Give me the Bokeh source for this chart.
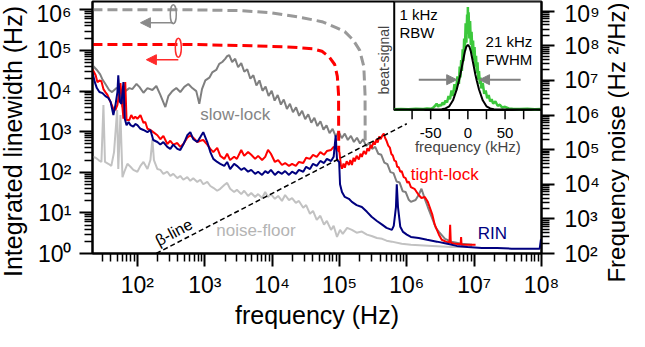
from math import log10, pi
from bokeh.plotting import figure
from bokeh.layouts import row
from bokeh.models import (Range1d, LogAxis, LinearScale, LogScale, FixedTicker,
                          Label, Arrow, NormalHead, CustomJSTickFormatter)
from bokeh.core.properties import value
from bokeh.embed import file_html
from bokeh.resources import INLINE

# ---------------- data ----------------
# frequency-noise spectra: (Fourier frequency in Hz, frequency noise in Hz^2/Hz)
slow_lock = [
    (21.5, 2.75e7), (25, 2.0e7), (28, 1.5e7), (30, 1.1e7), (33.5, 7.9e6), (38, 5.3e6),
    (42, 4.6e6), (49, 6.0e6), (54, 5.6e6), (60, 1.7e6), (66, 4.9e6), (76, 6.0e6),
    (84, 5.6e6), (97, 7.9e6), (107, 6.5e6), (123, 4.4e6), (141, 6.0e6), (167, 5.3e6),
    (191, 6.9e6), (219, 3.8e6), (260, 1.7e6), (288, 3.5e6), (330, 4.9e6), (378, 6.0e6),
    (433, 4.6e6), (497, 6.5e6), (570, 7.9e6), (653, 6.0e6), (748, 4.9e6), (830, 2.1e6),
    (910, 5.6e6), (1020, 1.0e7), (1170, 1.2e7), (1290, 1.7e7), (1480, 2.0e7), (1640, 3.0e7),
    (1820, 3.4e7), (2010, 4.2e7), (2150, 5.0e7), (2310, 5.4e7), (2550, 3.4e7), (2830, 4.2e7),
    (3130, 2.4e7), (3480, 3.16e7), (3860, 1.78e7), (4280, 2.1e7), (4750, 1.12e7),
    (5270, 1.41e7), (5850, 7.1e6), (6490, 1.0e7), (7200, 5.0e6), (8000, 6.6e6), (8870, 3.55e6),
    (9850, 5.0e6), (1.09e4, 2.6e6), (1.21e4, 3.8e6), (1.35e4, 2.0e6), (1.49e4, 2.8e6),
    (1.66e4, 1.5e6), (1.84e4, 2.1e6), (2.04e4, 1.2e6), (2.27e4, 1.66e6), (2.52e4, 9.5e5),
    (2.79e4, 1.32e6), (3.1e4, 7.6e5), (3.44e4, 1.05e6), (3.82e4, 6.0e5), (4.24e4, 8.3e5),
    (4.7e4, 4.8e5), (5.22e4, 6.6e5), (5.79e4, 3.8e5), (6.43e4, 5.0e5), (7.13e4, 3.0e5),
    (7.92e4, 4.0e5), (8.79e4, 2.4e5), (9.75e4, 3.3e5), (1.08e5, 2.14e5), (1.2e5, 2.9e5),
    (1.33e5, 1.9e5), (1.48e5, 2.5e5), (1.64e5, 1.66e5), (1.82e5, 2.2e5), (2.02e5, 1.5e5),
    (2.24e5, 2.0e5), (2.49e5, 1.26e5), (2.76e5, 1.58e5), (3.06e5, 1.05e5), (3.4e5, 1.2e5),
    (3.77e5, 7.6e4), (4.18e5, 7.1e4), (4.64e5, 4.2e4), (5.15e5, 3.8e4), (5.72e5, 2.24e4),
    (6.35e5, 2.1e4), (7.05e5, 1.2e4), (7.82e5, 1.12e4), (8.68e5, 6.3e3), (9.6e5, 6.0e3),
    (1.07e6, 3.55e3), (1.15e6, 3.1e3), (1.35e6, 3.5e3), (1.5e6, 4.9e3), (1.65e6, 7.4e3),
    (1.85e6, 3.8e3), (2.05e6, 2.2e3), (2.4e6, 1.0e3), (2.7e6, 550), (3.0e6, 420),
    (3.7e6, 265), (4.6e6, 220), (6.5e6, 190), (9.3e6, 178),
]
tight_lock = [
    (21.5, 2.1e7), (24, 1.4e7), (25.5, 8.9e6), (27.3, 1.0e7), (29.2, 9.5e6), (31.3, 5.6e6),
    (33.5, 4.6e6), (35.9, 3.8e6), (39.8, 2.4e6), (44, 1.5e6), (47.2, 1.4e6), (50.5, 1.95e6),
    (54, 4.6e6), (56, 8.3e6), (59, 2.4e6), (62, 7.8e5), (66, 8.9e6), (69, 7.2e5), (76, 7.2e5),
    (81, 1.0e6), (87, 7.8e5), (93, 8.9e5), (100, 7.8e5), (111, 1.0e6), (123, 5.9e5),
    (131, 6.3e5), (141, 4.0e5), (156, 3.7e5), (172, 3.2e5), (198, 2.6e5), (219, 2.0e5),
    (243, 2.5e5), (278, 1.45e5), (308, 1.8e5), (341, 1.4e5), (391, 1.55e5), (433, 1.2e5),
    (480, 1.45e5), (550, 2.2e5), (610, 2.6e5), (675, 2.2e5), (775, 1.66e5), (860, 1.8e5),
    (950, 1.9e5), (1090, 1.4e5), (1210, 1.05e5), (1340, 8.5e4), (1530, 1.12e5), (1700, 6.6e4),
    (1950, 5.4e4), (2150, 7.6e4), (2380, 5.0e4), (2730, 6.2e4), (3000, 5.4e4), (3480, 9.8e4),
    (3850, 6.6e4), (4400, 8.5e4), (4900, 7.1e4), (5600, 5.4e4), (6200, 6.6e4), (7100, 5.0e4),
    (7900, 6.2e4), (8700, 9.8e4), (9600, 7.6e4), (1.1e4, 4.4e4), (1.23e4, 5.0e4),
    (1.4e4, 3.6e4), (1.56e4, 4.1e4), (1.78e4, 3.4e4), (1.98e4, 3.9e4), (2.25e4, 3.4e4),
    (2.5e4, 4.4e4), (2.9e4, 4.1e4), (3.2e4, 5.8e4), (3.65e4, 5.4e4), (4.05e4, 7.1e4),
    (4.6e4, 6.2e4), (5.2e4, 8.5e4), (5.9e4, 7.1e4), (6.5e4, 9.1e4), (7.5e4, 9.8e4),
    (8.2e4, 1.2e5), (9.2e4, 1.05e5), (1.0e5, 8.5e4), (1.05e5, 3.5e4), (1.09e5, 2.8e4),
    (1.15e5, 4.0e4), (1.2e5, 3.0e4), (1.28e5, 4.6e4), (1.38e5, 3.6e4), (1.45e5, 5.0e4),
    (1.53e5, 3.6e4), (1.62e5, 5.8e4), (1.69e5, 4.6e4), (1.8e5, 6.6e4), (1.94e5, 5.2e4),
    (2.05e5, 7.6e4), (2.15e5, 6.2e4), (2.3e5, 9.1e4), (2.47e5, 7.4e4), (2.6e5, 1.1e5),
    (2.75e5, 9.1e4), (2.9e5, 1.35e5), (3.0e5, 1.1e5), (3.2e5, 1.7e5), (3.35e5, 1.4e5),
    (3.55e5, 2.0e5), (3.7e5, 1.6e5), (3.9e5, 2.4e5), (4.1e5, 2.0e5), (4.35e5, 2.6e5),
    (4.55e5, 2.9e5), (4.75e5, 2.2e5), (5.0e5, 1.8e5), (5.3e5, 1.3e5), (5.6e5, 1.15e5),
    (5.9e5, 7.5e4), (6.2e5, 6.8e4), (6.55e5, 4.8e4), (6.9e5, 4.6e4), (7.2e5, 3.2e4),
    (7.6e5, 3.1e4), (8.0e5, 2.3e4), (8.4e5, 2.4e4), (9.0e5, 1.6e4), (9.6e5, 1.5e4),
    (1.02e6, 1.1e4), (1.07e6, 1.2e4), (1.15e6, 8.3e3), (1.3e6, 7.4e3), (1.5e6, 4.9e3),
    (1.65e6, 4.0e3), (1.85e6, 4.3e3), (2.05e6, 3.1e3), (2.4e6, 1.3e3), (2.6e6, 680),
    (3.0e6, 350), (3.3e6, 250), (3.8e6, 220), (4.3e6, 205), (4.4e6, 680), (4.5e6, 205),
    (5.2e6, 190), (6.3e6, 185), (6.4e6, 300), (6.5e6, 180), (8.0e6, 178), (1.05e7, 178),
]
rin = [
    (21.5, 1.7e7), (23.3, 8.9e6), (25, 6.0e6), (27.3, 4.6e6), (30.3, 4.3e6), (33.5, 3.5e6),
    (37, 3.1e6), (40, 2.4e6), (44, 1.0e6), (47.5, 2.1e6), (50.5, 4.6e6), (52, 1.4e7),
    (55, 2.4e6), (58, 2.1e6), (62, 8.9e6), (65, 7.8e5), (69, 5.1e5), (74, 6.3e5), (79, 5.1e5),
    (87, 4.6e5), (93, 5.5e5), (100, 5.1e5), (111, 4.0e5), (123, 3.7e5), (141, 3.2e5),
    (156, 3.7e5), (172, 1.9e5), (198, 1.66e5), (219, 1.4e5), (243, 1.66e5), (278, 1.2e5),
    (308, 1.05e5), (341, 1.4e5), (391, 1.05e5), (433, 9.8e4), (480, 1.4e5), (515, 1.9e5),
    (550, 2.6e5), (610, 3.2e5), (675, 2.0e5), (775, 1.66e5), (860, 2.3e5), (950, 3.2e5),
    (1090, 1.66e5), (1210, 8.5e4), (1340, 5.4e4), (1530, 4.4e4), (1700, 3.9e4), (1950, 3.4e4),
    (2150, 4.4e4), (2380, 2.75e4), (2730, 3.9e4), (3000, 3.4e4), (3480, 2.6e4), (3850, 2.95e4),
    (4400, 2.3e4), (4900, 2.6e4), (5600, 2.0e4), (6200, 2.3e4), (7100, 1.86e4), (7900, 2.4e4),
    (8700, 2.1e4), (9600, 2.6e4), (1.1e4, 1.86e4), (1.23e4, 2.3e4), (1.4e4, 2.0e4),
    (1.56e4, 2.4e4), (1.78e4, 1.86e4), (1.98e4, 2.3e4), (2.25e4, 2.0e4), (2.5e4, 2.6e4),
    (2.9e4, 2.3e4), (3.2e4, 3.2e4), (3.65e4, 2.75e4), (4.05e4, 3.9e4), (4.6e4, 3.4e4),
    (5.2e4, 4.7e4), (5.9e4, 4.1e4), (6.5e4, 5.4e4), (7.5e4, 4.7e4), (8.2e4, 6.2e4),
    (8.8e4, 2.6e5), (9.2e4, 5.0e4), (9.9e4, 4.4e4), (1.02e5, 1.0e4), (1.09e5, 6.0e3),
    (1.2e5, 4.3e3), (1.38e5, 3.8e3), (1.53e5, 3.1e3), (1.8e5, 2.5e3), (2.15e5, 2.2e3),
    (2.56e5, 1.6e3), (3.0e5, 1.15e3), (3.6e5, 870), (4.3e5, 680), (5.0e5, 550), (6.0e5, 480),
    (6.4e5, 630), (6.9e5, 2.2e3), (7.1e5, 1.0e4), (7.4e5, 2.2e3), (8.0e5, 590), (8.8e5, 420),
    (1.0e6, 350), (1.15e6, 300), (1.5e6, 280), (2.0e6, 250), (2.8e6, 220), (4.0e6, 190),
    (5.5e6, 166), (8.0e6, 155), (1.3e7, 145), (2.2e7, 145), (3.6e7, 138), (6.0e7, 138),
    (9.4e7, 138), (9.8e7, 250), (1.0e8, 250),
]
noise_floor = [
    (21.5, 6.2e4), (24, 5.8e4), (26.5, 5.0e4), (29.2, 4.4e4), (31.3, 1.95e6), (33, 4.4e4),
    (37, 3.9e4), (41, 3.4e4), (45, 8.5e4), (50, 1.4e6), (52, 2.75e4), (56, 1.0e6), (60, 1.6e4),
    (64, 2.3e4), (71, 3.9e4), (79, 3.2e4), (87, 2.6e4), (100, 2.3e4), (111, 3.4e4),
    (123, 4.4e4), (141, 2.75e4), (156, 5.0e4), (167, 2.0e5), (176, 5.0e4), (198, 2.75e4),
    (219, 2.6e4), (243, 2.0e4), (278, 2.3e4), (308, 1.74e4), (341, 2.0e4), (391, 1.5e4),
    (433, 1.74e4), (480, 1.35e4), (550, 1.6e4), (610, 1.26e4), (675, 1.5e4), (775, 1.17e4),
    (860, 1.35e4), (950, 1.0e4), (1090, 1.17e4), (1210, 8.9e3), (1340, 7.9e3), (1530, 6.5e3),
    (1700, 7.4e3), (1950, 9.5e3), (2150, 1.1e4), (2380, 7.4e3), (2730, 6.0e3), (3000, 6.9e3),
    (3480, 5.2e3), (3850, 6.5e3), (4400, 4.6e3), (4900, 5.6e3), (5600, 4.3e3), (6200, 5.2e3),
    (7100, 4.0e3), (7900, 6.0e3), (8700, 4.3e3), (9600, 5.2e3), (1.1e4, 3.8e3), (1.23e4, 4.6e3),
    (1.4e4, 3.3e3), (1.56e4, 4.9e3), (1.78e4, 3.5e3), (1.98e4, 4.0e3), (2.25e4, 2.9e3),
    (2.5e4, 3.3e3), (2.9e4, 2.1e3), (3.2e4, 2.5e3), (3.65e4, 1.4e3), (4.05e4, 1.7e3),
    (4.6e4, 930), (5.2e4, 1.23e3), (5.9e4, 680), (6.5e4, 870), (7.5e4, 480), (8.2e4, 630),
    (9.2e4, 300), (1.02e5, 480), (1.12e5, 370), (1.3e5, 550), (1.53e5, 480), (1.8e5, 400),
    (2.15e5, 430), (2.56e5, 350), (3.0e5, 320), (3.6e5, 280), (4.3e5, 265), (5.0e5, 235),
    (6.0e5, 220), (8.4e5, 190), (1.15e6, 178), (2.4e6, 166), (4.6e6, 155), (9.3e6, 155),
]
beta_line = [(190, 100), (1.0e6, 5.6e5)]

# integrated linewidth (Hz) versus lower integration frequency (Hz)
slow_integrated = [
    (21.5, 1.0e6), (650, 1.0e6), (3600, 9.5e5), (1.0e4, 8.4e5), (2.8e4, 6.4e5), (5.5e4, 5.1e5),
    (9.1e4, 3.6e5), (1.2e5, 2.9e5), (1.6e5, 1.8e5), (2.0e5, 1.0e5), (2.3e5, 4.0e4),
    (2.4e5, 8.0e3), (2.41e5, 550),
]
tight_integrated = [
    (21.5, 1.4e5), (650, 1.4e5), (5000, 1.3e5), (2.0e4, 1.2e5), (4.0e4, 1.1e5), (5.5e4, 9.5e4),
    (7.0e4, 7.0e4), (8.5e4, 4.5e4), (9.3e4, 2.3e4), (9.7e4, 8.0e3), (9.75e4, 330),
]

# inset: beat signal (frequency offset in kHz, normalised amplitude)
beat_signal = [
    (-99, 0.008), (-90, 0.01), (-80, 0.008), (-70, 0.012), (-60, 0.01), (-55, 0.015),
    (-50, 0.012), (-47, 0.02), (-44, 0.04), (-42, 0.06), (-40, 0.03), (-38, 0.05), (-36, 0.04),
    (-34, 0.07), (-32, 0.05), (-30, 0.09), (-28, 0.07), (-26, 0.13), (-24, 0.10), (-22, 0.18),
    (-20, 0.13), (-18, 0.24), (-16, 0.18), (-14, 0.31), (-12, 0.24), (-11, 0.40), (-10, 0.30),
    (-9, 0.46), (-8, 0.36), (-7, 0.56), (-6, 0.45), (-5, 0.66), (-4, 0.55), (-3, 0.80),
    (-2, 0.62), (-1, 0.88), (-0.5, 0.70), (0, 0.95), (0.5, 0.74), (1, 0.90), (2, 0.66),
    (3, 0.82), (4, 0.60), (5, 0.72), (6, 0.52), (7, 0.64), (8, 0.46), (9, 0.58), (10, 0.40),
    (11, 0.50), (12, 0.34), (13, 0.44), (14, 0.28), (15, 0.36), (16, 0.24), (17, 0.30),
    (18, 0.20), (20, 0.25), (22, 0.15), (24, 0.18), (26, 0.11), (28, 0.14), (30, 0.08),
    (32, 0.10), (34, 0.06), (37, 0.08), (40, 0.04), (43, 0.05), (46, 0.025), (50, 0.03),
    (55, 0.015), (60, 0.012), (70, 0.01), (80, 0.012), (90, 0.008), (99, 0.01),
]
beat_fit = [
    (-99, 0.005), (-40, 0.006), (-35, 0.008), (-30, 0.015), (-25, 0.035), (-20, 0.09),
    (-15, 0.19), (-12, 0.27), (-10, 0.33), (-8, 0.40), (-6, 0.47), (-4, 0.54), (-2, 0.585),
    (0, 0.60), (2, 0.585), (4, 0.54), (6, 0.47), (8, 0.40), (10, 0.33), (12, 0.27), (15, 0.19),
    (20, 0.09), (25, 0.035), (30, 0.015), (35, 0.008), (40, 0.006), (99, 0.005),
]

# axes ticks
x_major_ticks = [1e2, 1e3, 1e4, 1e5, 1e6, 1e7, 1e8]
lw_major_ticks = [1e0, 1e1, 1e2, 1e3, 1e4, 1e5, 1e6]
fn_major_ticks = [1e2, 1e3, 1e4, 1e5, 1e6, 1e7, 1e8, 1e9]
inset_ticks = [-75, -50, -25, 0, 25, 50, 75]
inset_tick_labels = ["-50", "0", "50"]
inset_tick_label_pos = [-50, 0, 50]

# ---------------- layout ----------------
FONT = "Liberation Sans"
PAGE = 8
LEFT_W, RIGHT_W = 30, 27          # side panels holding the vertical axis titles
MAIN_W = 629 - LEFT_W - RIGHT_W   # 572
MAIN_H = 331
ML, MR, MT, MB = 62, 60, 1, 60

x_lo, x_hi = 21.54, 1e8
lw_lo, lw_hi = 1.0, 1.6e6
fn_lo, fn_hi = 100.0, 1.9e9

C_SLOW, C_SLOW_D, C_FLOOR = "#7f7f7f", "#999999", "#c2c2c2"
C_RED, C_NAVY, C_GREEN = "#ff0000", "#00007f", "#3cc83c"
C_ARROW_G, C_ARROW_R = "#8a8a8a", "#ff2a2a"


# reading positions of the reference picture (page pixels) -> data units
def ref_px_to_hz(px):
    return 10 ** (2 + (px - 145) / 67.5)


def ref_py_to_lw(py):
    return 10 ** (6 - (py - 18) / 40.8)


# inset placed as a fraction of the main frame (reference: right 33% wide, top 43% high)
INSET_FRAC_W, INSET_FRAC_H = 0.328, 0.431
IN_X0, IN_X1, IN_Y0, IN_Y1 = -99.0, 99.0, 0.0, 1.0
ix_range = Range1d(start=IN_X1 - (IN_X1 - IN_X0) / INSET_FRAC_W, end=IN_X1)
iy_range = Range1d(start=IN_Y1 - (IN_Y1 - IN_Y0) / INSET_FRAC_H, end=IN_Y1)


def no_frame_align(f):
    if "frame_align" in f.properties():
        f.frame_align = False


p = figure(width=MAIN_W, height=MAIN_H, x_axis_type="log", y_axis_type="log",
           x_range=Range1d(x_lo, x_hi), y_range=Range1d(lw_lo, lw_hi),
           output_backend="svg", toolbar_location=None,
           min_border_left=ML, min_border_right=MR, min_border_top=MT, min_border_bottom=MB)
no_frame_align(p)
p.extra_y_ranges = {"fn": Range1d(fn_lo, fn_hi), "iy": iy_range}
p.extra_x_ranges = {"ix": ix_range}
p.extra_y_scales = {"fn": LogScale(), "iy": LinearScale()}
p.extra_x_scales = {"ix": LinearScale()}

p.xgrid.visible = False
p.ygrid.visible = False
p.outline_line_color = "black"
p.outline_line_width = 2
p.background_fill_color = "white"
p.border_fill_color = "white"

sup_code = """
const sup = {"0":"\\u2070","1":"\\u00b9","2":"\\u00b2","3":"\\u00b3","4":"\\u2074",
             "5":"\\u2075","6":"\\u2076","7":"\\u2077","8":"\\u2078","9":"\\u2079","-":"\\u207b"};
const e = Math.round(Math.log10(tick));
return "10" + String(e).split("").map(c => sup[c]).join("");
"""

right_axis = LogAxis(y_range_name="fn")
p.add_layout(right_axis, "right")


def minors(lo, hi):
    out = []
    n = int(log10(lo)) - 1
    while 10 ** n <= hi:
        for k in range(2, 10):
            v = k * 10 ** n
            if lo <= v <= hi:
                out.append(v)
        n += 1
    return out


p.xaxis[0].ticker = FixedTicker(ticks=x_major_ticks, minor_ticks=minors(x_lo, x_hi))
p.yaxis[0].ticker = FixedTicker(ticks=lw_major_ticks, minor_ticks=minors(lw_lo, lw_hi))
right_axis.ticker = FixedTicker(ticks=fn_major_ticks, minor_ticks=minors(fn_lo, fn_hi))

for ax, standoff in ((p.xaxis[0], 5), (p.yaxis[0], 8), (right_axis, 10)):
    ax.formatter = CustomJSTickFormatter(code=sup_code)
    ax.axis_line_width = 2
    ax.axis_line_color = "black"
    ax.major_tick_line_width = 2
    ax.minor_tick_line_width = 1.5
    ax.major_tick_out = 13
    ax.major_tick_in = 0
    ax.minor_tick_out = 8
    ax.minor_tick_in = 0
    ax.major_label_text_font = FONT
    ax.major_label_text_font_size = "23px"
    ax.major_label_text_color = "black"
    ax.major_label_standoff = standoff

xa = p.xaxis[0]
xa.axis_label = "frequency (Hz)"
xa.axis_label_text_font = FONT
xa.axis_label_text_font_size = "25px"
xa.axis_label_text_font_style = "normal"
xa.axis_label_text_color = "black"
xa.axis_label_standoff = 0


def xs(pts):
    return [a for a, _ in pts]


def ys(pts):
    return [b for _, b in pts]


# spectra (right axis)
p.line(xs(noise_floor), ys(noise_floor), y_range_name="fn", line_color=C_FLOOR, line_width=2)
p.line(xs(slow_lock), ys(slow_lock), y_range_name="fn", line_color=C_SLOW, line_width=2)
p.line(xs(tight_lock), ys(tight_lock), y_range_name="fn", line_color=C_RED, line_width=2)
p.line(xs(rin), ys(rin), y_range_name="fn", line_color=C_NAVY, line_width=2)
p.line(xs(beta_line), ys(beta_line), y_range_name="fn", line_color="black",
       line_width=1.5, line_dash="5 3")

# integrated linewidths (left axis)
p.line(xs(slow_integrated), ys(slow_integrated), line_color=C_SLOW_D, line_width=3, line_dash="10 5")
p.line(xs(tight_integrated), ys(tight_integrated), line_color=C_RED, line_width=3, line_dash="10 5")

# axis markers: ellipses + arrows pointing to the left axis
marker_gray = (341, 7.8e5, 111, 4.8e5)   # ellipse x, ellipse y, arrow tip x, arrow y
marker_red = (405, 1.17e5, 136, 5.9e4)
for (ex, ey, tip, ay), col in ((marker_gray, C_ARROW_G), (marker_red, C_ARROW_R)):
    p.ellipse(x=[ex], y=[ey], width=6, height=19, width_units="screen", height_units="screen",
              fill_alpha=0, line_color=col, line_width=1.5)
    p.add_layout(Arrow(end=NormalHead(size=10, fill_color=col, line_color=col),
                       x_start=ex, y_start=ay, x_end=tip, y_end=ay,
                       line_color=col, line_width=1.5))

# ---------------- inset ----------------
p.quad(left=[IN_X0], right=[IN_X1], bottom=[IN_Y0], top=[IN_Y1], x_range_name="ix",
       y_range_name="iy", fill_color="white", line_color="black", line_width=2)
p.line(xs(beat_signal), ys(beat_signal), x_range_name="ix", y_range_name="iy",
       line_color=C_GREEN, line_width=2.5)
p.line(xs(beat_fit), ys(beat_fit), x_range_name="ix", y_range_name="iy",
       line_color="black", line_width=2)
p.segment(x0=inset_ticks, y0=[0] * len(inset_ticks), x1=inset_ticks,
          y1=[-0.085] * len(inset_ticks), x_range_name="ix", y_range_name="iy",
          line_color="black", line_width=1.5)
p.text(x=inset_tick_label_pos, y=[-0.215] * 3, text=inset_tick_labels, x_range_name="ix",
       y_range_name="iy", text_align="center", text_baseline="middle",
       text_font=value(FONT), text_font_size="15px", text_color="black")

inset_texts = [("1 kHz", -92, 0.88), ("RBW", -92, 0.71),
               ("21 kHz", 23.8, 0.635), ("FWHM", 23.8, 0.465)]
for t, x, y in inset_texts:
    p.add_layout(Label(x=x, y=y, text=t, x_range_name="ix", y_range_name="iy",
                       text_font=FONT, text_font_size="15px", text_color="black",
                       text_align="left", text_baseline="middle"))
p.add_layout(Label(x=0, y=-0.335, text="frequency (kHz)", x_range_name="ix", y_range_name="iy",
                   text_font=FONT, text_font_size="15px", text_align="center",
                   text_baseline="middle"))
p.add_layout(Label(x=-113, y=0.46, text="beat-signal", x_range_name="ix", y_range_name="iy",
                   angle=pi / 2, text_font=FONT, text_font_size="14px", text_align="center",
                   text_baseline="middle"))
for x0, x1 in ((-66, -15), (71, 15.7)):
    p.add_layout(Arrow(end=NormalHead(size=10, fill_color="#808080", line_color="#808080"),
                       x_start=x0, y_start=0.28, x_end=x1, y_end=0.28,
                       x_range_name="ix", y_range_name="iy",
                       line_color="#808080", line_width=2))

# ---------------- curve labels (anchors read in the reference picture) ----------------
curve_labels = [("slow-lock", 208, 123, "#858585"),
                ("noise-floor", 224, 240, "#b4b4b4"),
                ("tight-lock", 419, 183, C_RED),
                ("RIN", 486, 243, C_NAVY)]
for t, px, py, col in curve_labels:
    p.add_layout(Label(x=ref_px_to_hz(px), y=ref_py_to_lw(py), text=t, text_font=FONT,
                       text_font_size="17px", text_color=col, text_align="left",
                       text_baseline="middle"))
p.add_layout(Label(x=ref_px_to_hz(181.5), y=ref_py_to_lw(241.5), text="\u03b2-line",
                   text_font=FONT, text_font_size="16px", text_color="black",
                   text_align="center", text_baseline="middle", angle=28 * pi / 180))


# ---------------- vertical axis titles in their own narrow panels ----------------
def text_panel(w, h, text, x, y, size, angle):
    f = figure(width=w, height=h, x_range=Range1d(0, w), y_range=Range1d(0, h),
               x_axis_location=None, y_axis_location=None, toolbar_location=None,
               output_backend="svg", min_border=0)
    no_frame_align(f)
    f.outline_line_color = None
    f.xgrid.visible = False
    f.ygrid.visible = False
    f.background_fill_color = "white"
    f.border_fill_color = "white"
    f.add_layout(Label(x=x, y=y, text=text, angle=angle, text_font=FONT,
                       text_font_size=size, text_color="black", text_align="center",
                       text_baseline="middle"))
    return f


# positions inside each panel (panel-local pixels, y measured from the panel bottom)
left_title = text_panel(LEFT_W, MAIN_H, "Integrated linewidth (Hz)", 12,
                        MAIN_H - (149 - PAGE), "25px", pi / 2)
right_title = text_panel(RIGHT_W, MAIN_H, "Frequency noise (Hz \u00b2/Hz)", 14,
                         MAIN_H - (150 - PAGE), "24px", pi / 2)

layout = row(left_title, p, right_title)

open("out.html", "w").write(file_html(layout, INLINE))
